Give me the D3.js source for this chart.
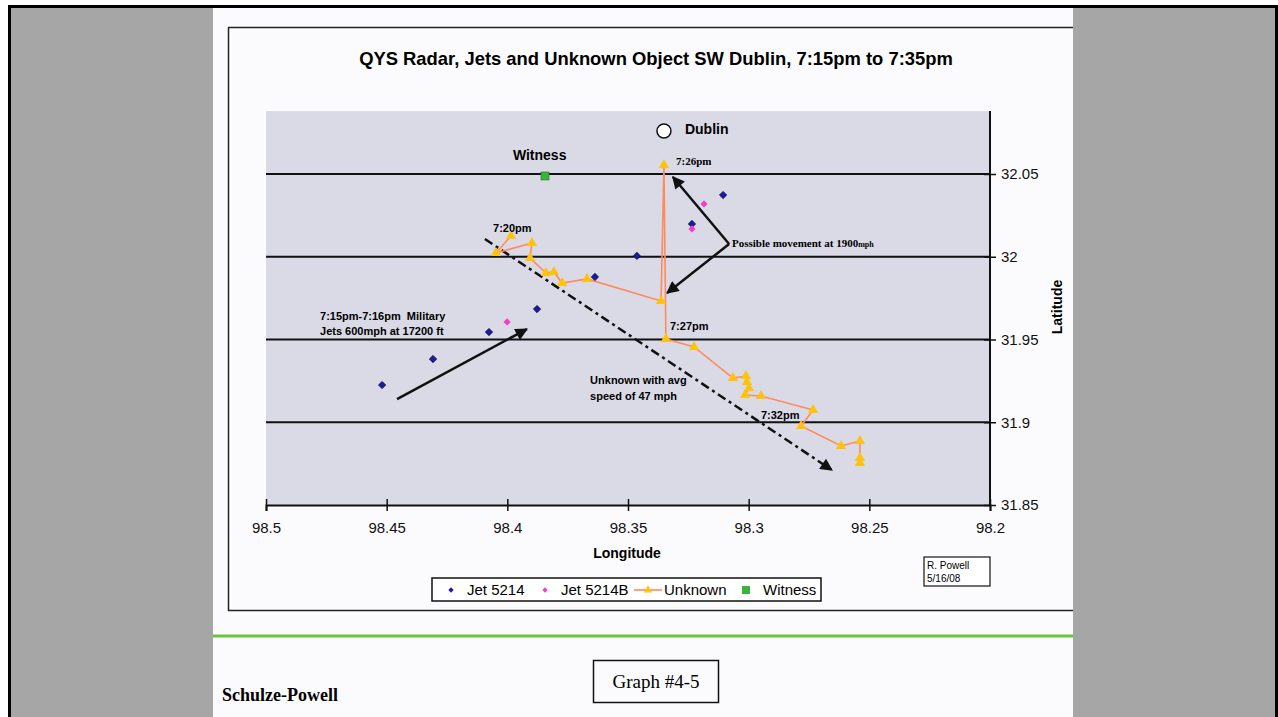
<!DOCTYPE html>
<html>
<head>
<meta charset="utf-8">
<script src="https://cdn.jsdelivr.net/npm/d3@7"></script>
<style>
  body { margin: 0; background: #fff; }
  svg { display: block; }
</style>
</head>
<body>
<svg id="chart"></svg>
<script>
// values (longitude W, latitude N)
const unknownLon = [98.3985, 98.4047, 98.3898, 98.3906, 98.3840, 98.3807, 98.3773, 98.3670, 98.3363, 98.3351,
  98.3343, 98.3226, 98.3065, 98.3011, 98.3007, 98.2999, 98.3015, 98.2949, 98.2733, 98.2783, 98.2617, 98.2539, 98.2539, 98.2539];
const unknownLat = [32.0125, 32.0023, 32.0083, 31.9992, 31.9902, 31.9908, 31.9841, 31.9866, 31.9733, 32.0554,
  31.9503, 31.9455, 31.9267, 31.9279, 31.9243, 31.9207, 31.9165, 31.9159, 31.9074, 31.8977, 31.8857, 31.8887, 31.8784, 31.8754];
const jetLon = [98.4519, 98.4308, 98.4076, 98.3877, 98.3637, 98.3463, 98.3235, 98.3106];
const jetLat = [31.9225, 31.9382, 31.9545, 31.9684, 31.9878, 32.0005, 32.0198, 32.0373];
const jetBLon = [98.4001, 98.3235, 98.3185];
const jetBLat = [31.9606, 32.0168, 32.0319];
const witnessLon = [98.3844];
const witnessLat = [32.0488];
const dublinLon = [98.3351];
const dublinLat = [32.0760];

const xTicks = [98.5, 98.45, 98.4, 98.35, 98.3, 98.25, 98.2];
const yTicks = [31.85, 31.9, 31.95, 32, 32.05];
const legendNames = ['Jet 5214', 'Jet 5214B', 'Unknown', 'Witness'];

// text notes on the chart, placed in lon/lat
const notes = [
  { lon: 98.4059, lat: 32.0150, text: '7:20pm', serif: false },
  { lon: 98.3301, lat: 32.0554, text: '7:26pm', serif: true },
  { lon: 98.3326, lat: 31.9557, text: '7:27pm', serif: false },
  { lon: 98.2949, lat: 31.9020, text: '7:32pm', serif: false },
  { lon: 98.3657, lat: 31.9231, text: 'Unknown with avg', serif: false },
  { lon: 98.3657, lat: 31.9134, text: 'speed of 47 mph', serif: false },
  { lon: 98.4776, lat: 31.9618, text: '7:15pm-7:16pm\u00a0\u00a0Military', serif: false },
  { lon: 98.4776, lat: 31.9527, text: 'Jets 600mph at 17200 ft', serif: false }
];
const arrows = [
  { from: [98.4457, 31.9140], to: [98.3919, 31.9563], dash: null },
  { from: [98.3081, 32.0077], to: [98.3314, 32.0482], dash: null },
  { from: [98.3081, 32.0077], to: [98.3338, 31.9781], dash: null },
  { from: [98.4093, 32.0107], to: [98.2655, 31.8711], dash: '9,4,3,4' }
];

document.addEventListener('DOMContentLoaded', function () {
  const W = 1278, H = 717;
  const svg = d3.select('#chart').attr('width', W).attr('height', H);

  // scan background: grey frame, white page
  svg.append('rect').attr('x', 9).attr('y', 6).attr('width', W - 9).attr('height', H - 6).attr('fill', '#a6a6a6');
  svg.append('path').attr('d', `M9.5,${H} V6.5 H1276.5 V${H}`).attr('fill', 'none').attr('stroke', '#000').attr('stroke-width', 3);
  svg.append('rect').attr('x', 213).attr('y', 8).attr('width', 860).attr('height', H - 8).attr('fill', '#fbfbfd');

  // chart border (runs off the page on the right)
  svg.append('path').attr('d', 'M1073,27.5 H228.5 V610.5 H1073')
    .attr('fill', 'none').attr('stroke', '#222').attr('stroke-width', 1.5);

  svg.append('text').attr('x', 656).attr('y', 65).attr('text-anchor', 'middle')
    .style('font', 'bold 18.4px "Liberation Sans", Arial, sans-serif')
    .text('QYS Radar, Jets and Unknown Object SW Dublin, 7:15pm to 7:35pm');

  const x = d3.scaleLinear().domain([98.5, 98.2]).range([266, 990]);
  const y = d3.scaleLinear().domain([31.85, 32.05]).range([505, 174]);
  const yTop = 32.088;

  svg.append('rect').attr('x', x(98.5)).attr('y', y(yTop))
    .attr('width', x(98.2) - x(98.5)).attr('height', y(31.85) - y(yTop))
    .attr('fill', '#dadae6');

  // gridlines
  svg.append('g').selectAll('line').data(yTicks.filter(d => d > 31.85)).join('line')
    .attr('x1', x(98.5)).attr('x2', x(98.2))
    .attr('y1', d => y(d)).attr('y2', d => y(d))
    .attr('stroke', '#111').attr('stroke-width', 2);

  // axes
  const fontAxis = '15px "Liberation Sans", Arial, sans-serif';
  const xAxis = svg.append('g').attr('transform', `translate(0,${y(31.85)})`)
    .call(d3.axisBottom(x).tickValues(xTicks).tickSize(6).tickFormat(d3.format('')));
  xAxis.select('.domain').attr('stroke', '#111').attr('stroke-width', 2);
  xAxis.selectAll('.tick line').attr('y1', -6).attr('stroke', '#111').attr('stroke-width', 1.5);
  xAxis.selectAll('.tick text').attr('y', 17).style('font', fontAxis).attr('fill', '#111');

  const yAxis = svg.append('g').attr('transform', `translate(${x(98.2)},0)`)
    .call(d3.axisRight(y).tickValues(yTicks).tickSize(6).tickFormat(d3.format('')));
  yAxis.select('.domain').attr('d', `M0,${y(yTop)}V${y(31.85)}`).attr('stroke', '#111').attr('stroke-width', 2);
  yAxis.selectAll('.tick line').attr('x1', -6).attr('stroke', '#111').attr('stroke-width', 1.5);
  yAxis.selectAll('.tick text').attr('x', 11).style('font', fontAxis).attr('fill', '#111');

  svg.append('text').attr('x', 627).attr('y', 558).attr('text-anchor', 'middle')
    .style('font', 'bold 14px "Liberation Sans", Arial, sans-serif').text('Longitude');
  svg.append('text').attr('transform', 'translate(1062,307) rotate(-90)').attr('text-anchor', 'middle')
    .style('font', 'bold 14px "Liberation Sans", Arial, sans-serif').text('Latitude');

  // dublin marker
  svg.append('circle').attr('cx', x(dublinLon[0])).attr('cy', y(dublinLat[0])).attr('r', 7)
    .attr('fill', '#fff').attr('stroke', '#111').attr('stroke-width', 1.5);
  svg.append('text').attr('x', x(98.3264)).attr('y', y(32.0742))
    .style('font', 'bold 14px "Liberation Sans", Arial, sans-serif').text('Dublin');
  svg.append('text').attr('x', x(98.3977)).attr('y', y(32.0585))
    .style('font', 'bold 14px "Liberation Sans", Arial, sans-serif').text('Witness');

  // arrows
  const defs = svg.append('defs');
  defs.append('marker').attr('id', 'head').attr('viewBox', '0 0 10 10')
    .attr('refX', 9).attr('refY', 5).attr('markerWidth', 6).attr('markerHeight', 5)
    .attr('orient', 'auto').attr('markerUnits', 'strokeWidth')
    .append('path').attr('d', 'M0,0 L10,5 L0,10 Z').attr('fill', '#111');
  svg.append('g').selectAll('line').data(arrows).join('line')
    .attr('x1', d => x(d.from[0])).attr('y1', d => y(d.from[1]))
    .attr('x2', d => x(d.to[0])).attr('y2', d => y(d.to[1]))
    .attr('stroke', '#111').attr('stroke-width', 2.5)
    .attr('stroke-dasharray', d => d.dash)
    .attr('marker-end', 'url(#head)');

  // unknown object track
  const track = unknownLon.map((d, i) => [d, unknownLat[i]]);
  svg.append('path').datum(track)
    .attr('d', d3.line().x(d => x(d[0])).y(d => y(d[1])))
    .attr('fill', 'none').attr('stroke', '#ff8a5c').attr('stroke-width', 1.6);
  const tri = d3.symbol().type(d3.symbolTriangle).size(46);
  svg.append('g').selectAll('path').data(track).join('path')
    .attr('d', tri).attr('transform', d => `translate(${x(d[0])},${y(d[1])})`)
    .attr('fill', '#ffc20e');

  // jets: square diamonds like excel
  const dia = d3.symbol().type(d3.symbolSquare).size(26);
  svg.append('g').selectAll('path').data(jetLon.map((d, i) => [d, jetLat[i]])).join('path')
    .attr('d', dia).attr('transform', d => `translate(${x(d[0])},${y(d[1])}) rotate(45)`)
    .attr('fill', '#1a1aa8').attr('stroke', '#0a0a40').attr('stroke-width', 0.8);
  svg.append('g').selectAll('path').data(jetBLon.map((d, i) => [d, jetBLat[i]])).join('path')
    .attr('d', dia).attr('transform', d => `translate(${x(d[0])},${y(d[1])}) rotate(45)`)
    .attr('fill', '#f040c8');

  // witness
  svg.append('g').selectAll('rect').data(witnessLon.map((d, i) => [d, witnessLat[i]])).join('rect')
    .attr('x', d => x(d[0]) - 4).attr('y', d => y(d[1]) - 4).attr('width', 8).attr('height', 8)
    .attr('fill', '#3cb43c').attr('stroke', '#1e7a1e').attr('stroke-width', 0.6);

  // notes
  svg.append('g').selectAll('text').data(notes).join('text')
    .attr('x', d => x(d.lon)).attr('y', d => y(d.lat))
    .style('font', d => d.serif ? 'bold 11px "Liberation Serif", serif' : 'bold 11px "Liberation Sans", Arial, sans-serif')
    .text(d => d.text);
  const pm = svg.append('text').attr('x', x(98.3069)).attr('y', y(32.0059))
    .style('font', 'bold 11px "Liberation Serif", serif');
  pm.append('tspan').text('Possible movement at 1900');
  pm.append('tspan').style('font-size', '8px').text('mph');

  // legend
  const lg = svg.append('g').attr('transform', 'translate(432,578)');
  lg.append('rect').attr('width', 389).attr('height', 23).attr('fill', '#fff')
    .attr('stroke', '#111').attr('stroke-width', 1.5);
  const lx = [19, 113, 216, 314];
  const lt = [35, 129, 232, 331];
  legendNames.forEach((name, i) => {
    const g = lg.append('g').attr('transform', `translate(${lx[i]},12)`);
    if (i < 2) g.append('path').attr('d', d3.symbol().type(d3.symbolSquare).size(14))
      .attr('transform', 'rotate(45)').attr('fill', i === 0 ? '#1a1aa8' : '#f040c8');
    if (i === 2) {
      g.append('line').attr('x1', -14).attr('x2', 14).attr('stroke', '#ff8a5c').attr('stroke-width', 1.6);
      g.append('path').attr('d', d3.symbol().type(d3.symbolTriangle).size(30)).attr('fill', '#ffc20e');
    }
    if (i === 3) g.append('rect').attr('x', -4).attr('y', -4).attr('width', 8).attr('height', 8).attr('fill', '#3cb43c');
    lg.append('text').attr('x', lt[i]).attr('y', 17)
      .style('font', '15px "Liberation Sans", Arial, sans-serif').text(name);
  });

  // signature box
  svg.append('rect').attr('x', 924).attr('y', 557).attr('width', 66).attr('height', 29)
    .attr('fill', '#fff').attr('stroke', '#111').attr('stroke-width', 1.2);
  svg.append('text').attr('x', 927).attr('y', 569).style('font', '10px "Liberation Sans", Arial, sans-serif').text('R. Powell');
  svg.append('text').attr('x', 927).attr('y', 582).style('font', '10px "Liberation Sans", Arial, sans-serif').text('5/16/08');

  // page footer
  svg.append('line').attr('x1', 213).attr('x2', 1073).attr('y1', 636).attr('y2', 636)
    .attr('stroke', '#6cc43c').attr('stroke-width', 3);
  svg.append('rect').attr('x', 593.5).attr('y', 660.5).attr('width', 125).attr('height', 42)
    .attr('fill', 'none').attr('stroke', '#111').attr('stroke-width', 1.5);
  svg.append('text').attr('x', 656).attr('y', 688).attr('text-anchor', 'middle')
    .style('font', '19px "Liberation Serif", serif').text('Graph #4-5');
  svg.append('text').attr('x', 222).attr('y', 701)
    .style('font', 'bold 18px "Liberation Serif", serif').text('Schulze-Powell');
});
</script>
</body>
</html>
